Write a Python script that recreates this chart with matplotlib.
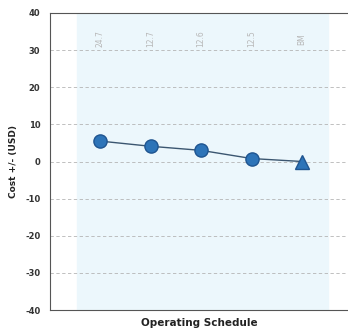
import numpy as np
import matplotlib
matplotlib.use('Agg')
import matplotlib.pyplot as plt

plt.rcParams['font.family'] = ['Liberation Sans Narrow', 'DejaVu Sans']

# schedule labels (rotated, at top) and cost values
schedules = ['24.7', '12.7', '12.6', '12.5', 'BM']
cost = [5.5, 4.1, 3.0, 0.8, 0.0]
y_ticks = [40, 30, 20, 10, 0, -10, -20, -30, -40]

fig = plt.figure(figsize=(3.48, 3.33), dpi=100)
ax = fig.add_axes([0.144, 0.069, 0.856, 0.892])

x = np.arange(len(schedules))
ax.axvspan(-0.455, 4.51, color='#ecf7fc', zorder=0)
for yv in y_ticks[1:-1]:
    ax.axhline(yv, color='#b5b5b5', linestyle=(0, (4, 3)), linewidth=0.6, zorder=1)

ax.plot(x, cost, color='#3b5670', linewidth=1.0, zorder=2)
ax.plot(x[:-1], cost[:-1], 'o', color='#2d74b8', markeredgecolor='#1f5590',
        markersize=9.5, zorder=3)
ax.plot(x[-1:], cost[-1:], '^', color='#2d74b8', markeredgecolor='#1f5590',
        markersize=10, zorder=3)

for xi, lab in zip(x, schedules):
    ax.text(xi, 33, lab, rotation=90, ha='center', va='center',
            fontsize=5.5, color='#b8b8b8', zorder=2)

ax.set_xlim(-0.99, 4.91)
ax.set_ylim(-40, 40)
ax.set_yticks(y_ticks)
ax.set_yticklabels([str(v) for v in y_ticks], fontsize=6, fontweight='bold', color='#333333')
ax.set_xticks([])
ax.tick_params(axis='y', length=0, pad=7)
ax.spines['right'].set_visible(False)
for s in ['left', 'top', 'bottom']:
    ax.spines[s].set_color('#555555')
    ax.spines[s].set_linewidth(0.8)

ax.set_xlabel('Operating Schedule', fontsize=7.5, fontweight='bold', color='#222222', labelpad=6)
ax.set_ylabel('Cost +/- (USD)', fontsize=6.5, fontweight='bold', color='#222222', labelpad=5)

fig.savefig('out.png', dpi=100)
